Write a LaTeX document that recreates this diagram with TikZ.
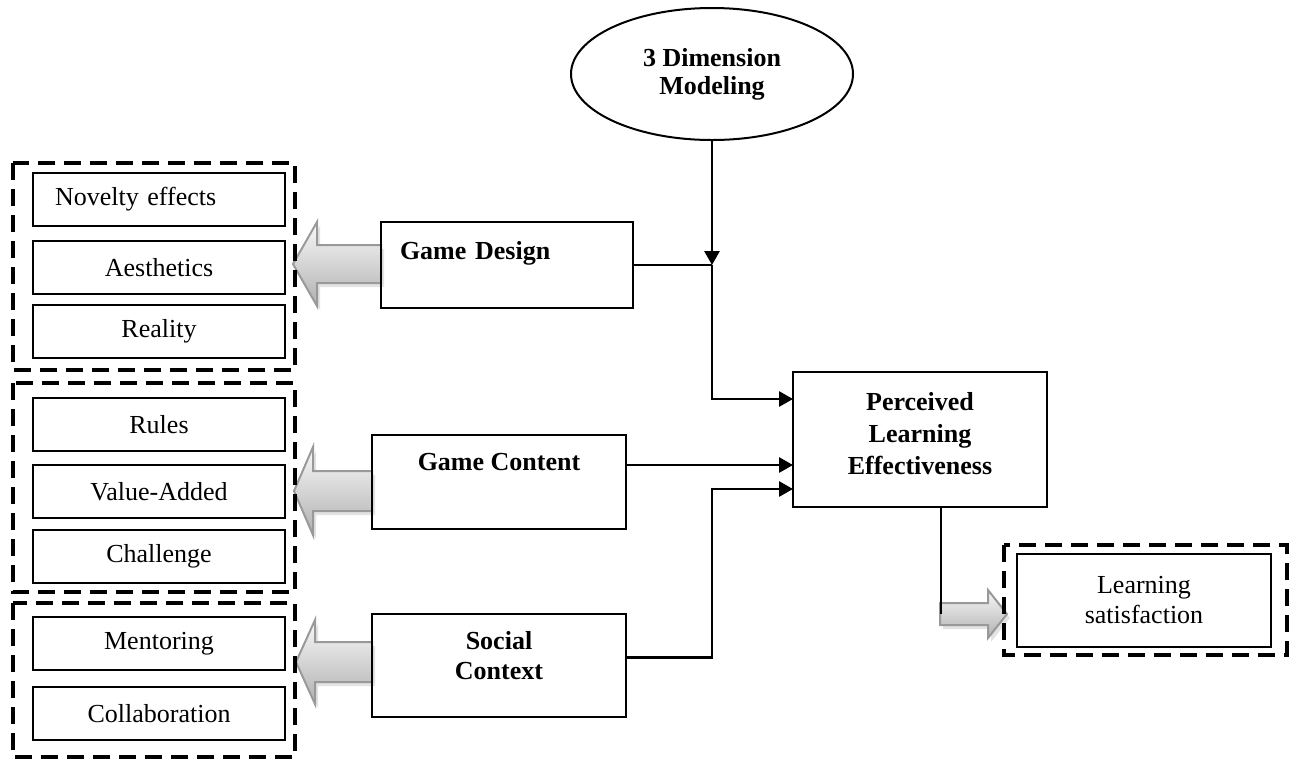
\documentclass[tikz,border=0pt]{standalone}
\usepackage{fontspec}
\setmainfont{Liberation Serif}
\usetikzlibrary{arrows.meta,shapes.geometric}
\newcommand\bigarrowshape[6]{%
  \begin{scope}[shift={(3,4)}]
    \fill[shd] (#2,#1) -- (#3,{#1-#5}) -- (#3,{#1-#6}) -- (#4,{#1-#6}) -- (#4,{#1+#6}) -- (#3,{#1+#6}) -- (#3,{#1+#5}) -- cycle;
  \end{scope}
  \draw[blk] (#2,#1) -- (#3,{#1-#5}) -- (#3,{#1-#6}) -- (#4,{#1-#6}) -- (#4,{#1+#6}) -- (#3,{#1+#6}) -- (#3,{#1+#5}) -- cycle;}
\begin{document}
\begin{tikzpicture}[x=0.5pt,y=-0.5pt,
  every node/.style={font=\fontsize{13}{15}\selectfont},
  box/.style={draw, line width=1pt, inner sep=0pt, align=center},
  leaf/.style={box, minimum width=126pt, minimum height=26.5pt},
  mid/.style={box, minimum width=127pt, font=\fontsize{13}{15}\selectfont\bfseries},
  grp/.style={draw, line width=2pt, dash pattern=on 8.5pt off 4.5pt},
  conn/.style={line width=1.4pt},
  tip/.style={-{Triangle[length=7pt,width=7.5pt]}},
  blk/.style={draw=gray!80, line width=1pt, top color=gray!5, bottom color=gray!62},
  shd/.style={fill=gray!22}]
\useasboundingbox (0,0) rectangle (1294,762);

% block arrows
\bigarrowshape{264}{293}{317}{381}{42}{19}
\bigarrowshape{491}{294}{313}{372}{44}{20}
\bigarrowshape{662}{296}{315}{372}{42}{20}
\bigarrowshape{614}{1007}{988}{940}{24}{11}

% group frames
\draw[grp] (13,163) rectangle (295,370);
\draw[grp] (13,383) rectangle (295,592);
\draw[grp] (13,603) rectangle (295,757);
\draw[grp] (1004,545) rectangle (1287,655);

% leaves
\node[leaf, align=left, text width=104pt, inner xsep=11pt] (nov) at (159,199.5) {Novelty effects};
\node[leaf] (aes) at (159,267.5) {Aesthetics};
\node[leaf] (rea) at (159,331) {Reality};
\node[leaf] (rul) at (159,424.5) {Rules};
\node[leaf] (val) at (159,491.5) {Value-Added};
\node[leaf] (cha) at (159,556) {Challenge};
\node[leaf] (men) at (159,643.5) {Mentoring};
\node[leaf] (col) at (159,713.5) {Collaboration};

% middle boxes
\node[mid, align=left, minimum width=126pt, text width=107pt, inner xsep=9.5pt, minimum height=43pt] (gd) at (507,265) {Game Design\\\mbox{}};
\node[mid, minimum height=47pt] (gc) at (499,482) {Game Content\\[5pt]\mbox{}};
\node[mid, minimum height=51.5pt] (sc) at (499,665.5) {Social\\Context\\[-5pt]\mbox{}};

% top ellipse
\node[draw, ellipse, line width=1pt, minimum width=141pt, minimum height=66pt, inner sep=0pt, align=center, font=\fontsize{13}{14}\selectfont\bfseries] (ell) at (712,74) {3 Dimension\\Modeling};

% outcome
\node[box, minimum width=127pt, minimum height=67.5pt, font=\fontsize{13}{16}\selectfont\bfseries] (perc) at (920,439.5) {Perceived\\Learning\\Effectiveness\\[-10pt]\mbox{}};
\node[box, minimum width=127pt, minimum height=46.5pt] (ls) at (1144,600.5) {Learning\\satisfaction};

% connectors
\coordinate (jd) at (712,265);
\coordinate (pa) at (793,399);
\coordinate (pb) at (793,465);
\coordinate (pc) at (793,489);
\coordinate (sbend) at (712,489);
\coordinate (ra) at (941,614);
\draw[conn,tip] (ell.south) -- (jd);
\draw[conn] (gd.east) -- (jd);
\draw[conn,tip] (jd) |- (pa);
\draw[conn,tip] (gc.east |- pb) -- (pb);
\draw[conn,tip] ([yshift=4pt]sc.east) -| (sbend) -- (pc);
\draw[conn] ([xshift=10.5pt]perc.south) -- (ra);
\end{tikzpicture}
\end{document}
